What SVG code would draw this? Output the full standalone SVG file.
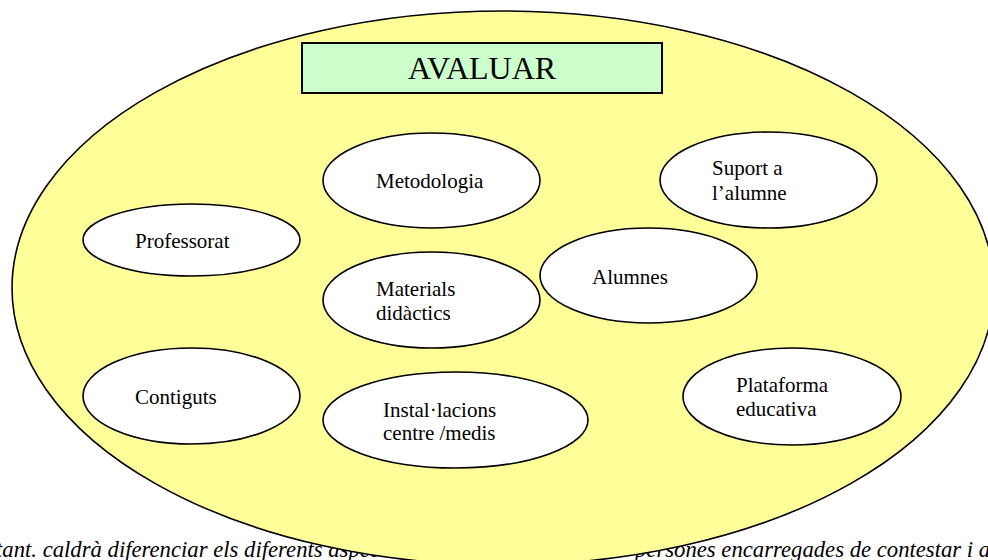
<svg xmlns="http://www.w3.org/2000/svg" width="988" height="560" viewBox="0 0 988 560">
<style>
.lbl{font-family:"Liberation Serif","Times New Roman",serif;font-size:21px;fill:#000}
.node{fill:#fff;stroke:#000;stroke-width:1.6}
.note{font-family:"Liberation Serif","Times New Roman",serif;font-style:italic;font-size:22.7px;fill:#000}
</style>
<rect width="988" height="560" fill="#fff"/>
<g id="note">
<text class="note" x="-4" y="557">tant. caldrà diferenciar els diferents aspectes</text>
<text class="note" x="635" y="557">persones encarregades de contestar i avaluar</text>
</g>
<g id="frame">
<ellipse cx="503" cy="288" rx="491" ry="277" fill="#ffff99" stroke="#000" stroke-width="1.6"/>
</g>
<g id="title">
<rect x="302" y="43" width="360" height="50" fill="#ccffcc" stroke="#000" stroke-width="2"/>
<text x="482" y="79" text-anchor="middle" font-family="Liberation Serif, Times New Roman, serif" font-size="32">AVALUAR</text>
</g>
<g id="metodologia">
<ellipse class="node" cx="431.5" cy="180.5" rx="108.5" ry="47.5"/>
<text class="lbl" x="376" y="188">Metodologia</text>
</g>
<g id="suport">
<ellipse class="node" cx="768.5" cy="180" rx="108.5" ry="48"/>
<text class="lbl" x="712" y="175">Suport a</text>
<text class="lbl" x="712" y="200">l’alumne</text>
</g>
<g id="professorat">
<ellipse class="node" cx="191.5" cy="240" rx="108.5" ry="36"/>
<text class="lbl" x="135" y="248">Professorat</text>
</g>
<g id="alumnes">
<ellipse class="node" cx="648.5" cy="275.5" rx="108.5" ry="47.5"/>
<text class="lbl" x="592" y="284">Alumnes</text>
</g>
<g id="materials">
<ellipse class="node" cx="431.5" cy="300" rx="108.5" ry="48"/>
<text class="lbl" x="376" y="296">Materials</text>
<text class="lbl" x="376" y="320">didàctics</text>
</g>
<g id="contiguts">
<ellipse class="node" cx="191.5" cy="396" rx="108.5" ry="48"/>
<text class="lbl" x="135" y="404">Contiguts</text>
</g>
<g id="installacions">
<ellipse class="node" cx="455.5" cy="420" rx="132.5" ry="48"/>
<text class="lbl" x="383" y="417">Instal·lacions</text>
<text class="lbl" x="383" y="440">centre /medis</text>
</g>
<g id="plataforma">
<ellipse class="node" cx="792" cy="396.5" rx="109" ry="48.5"/>
<text class="lbl" x="736" y="392">Plataforma</text>
<text class="lbl" x="736" y="416">educativa</text>
</g>
</svg>
